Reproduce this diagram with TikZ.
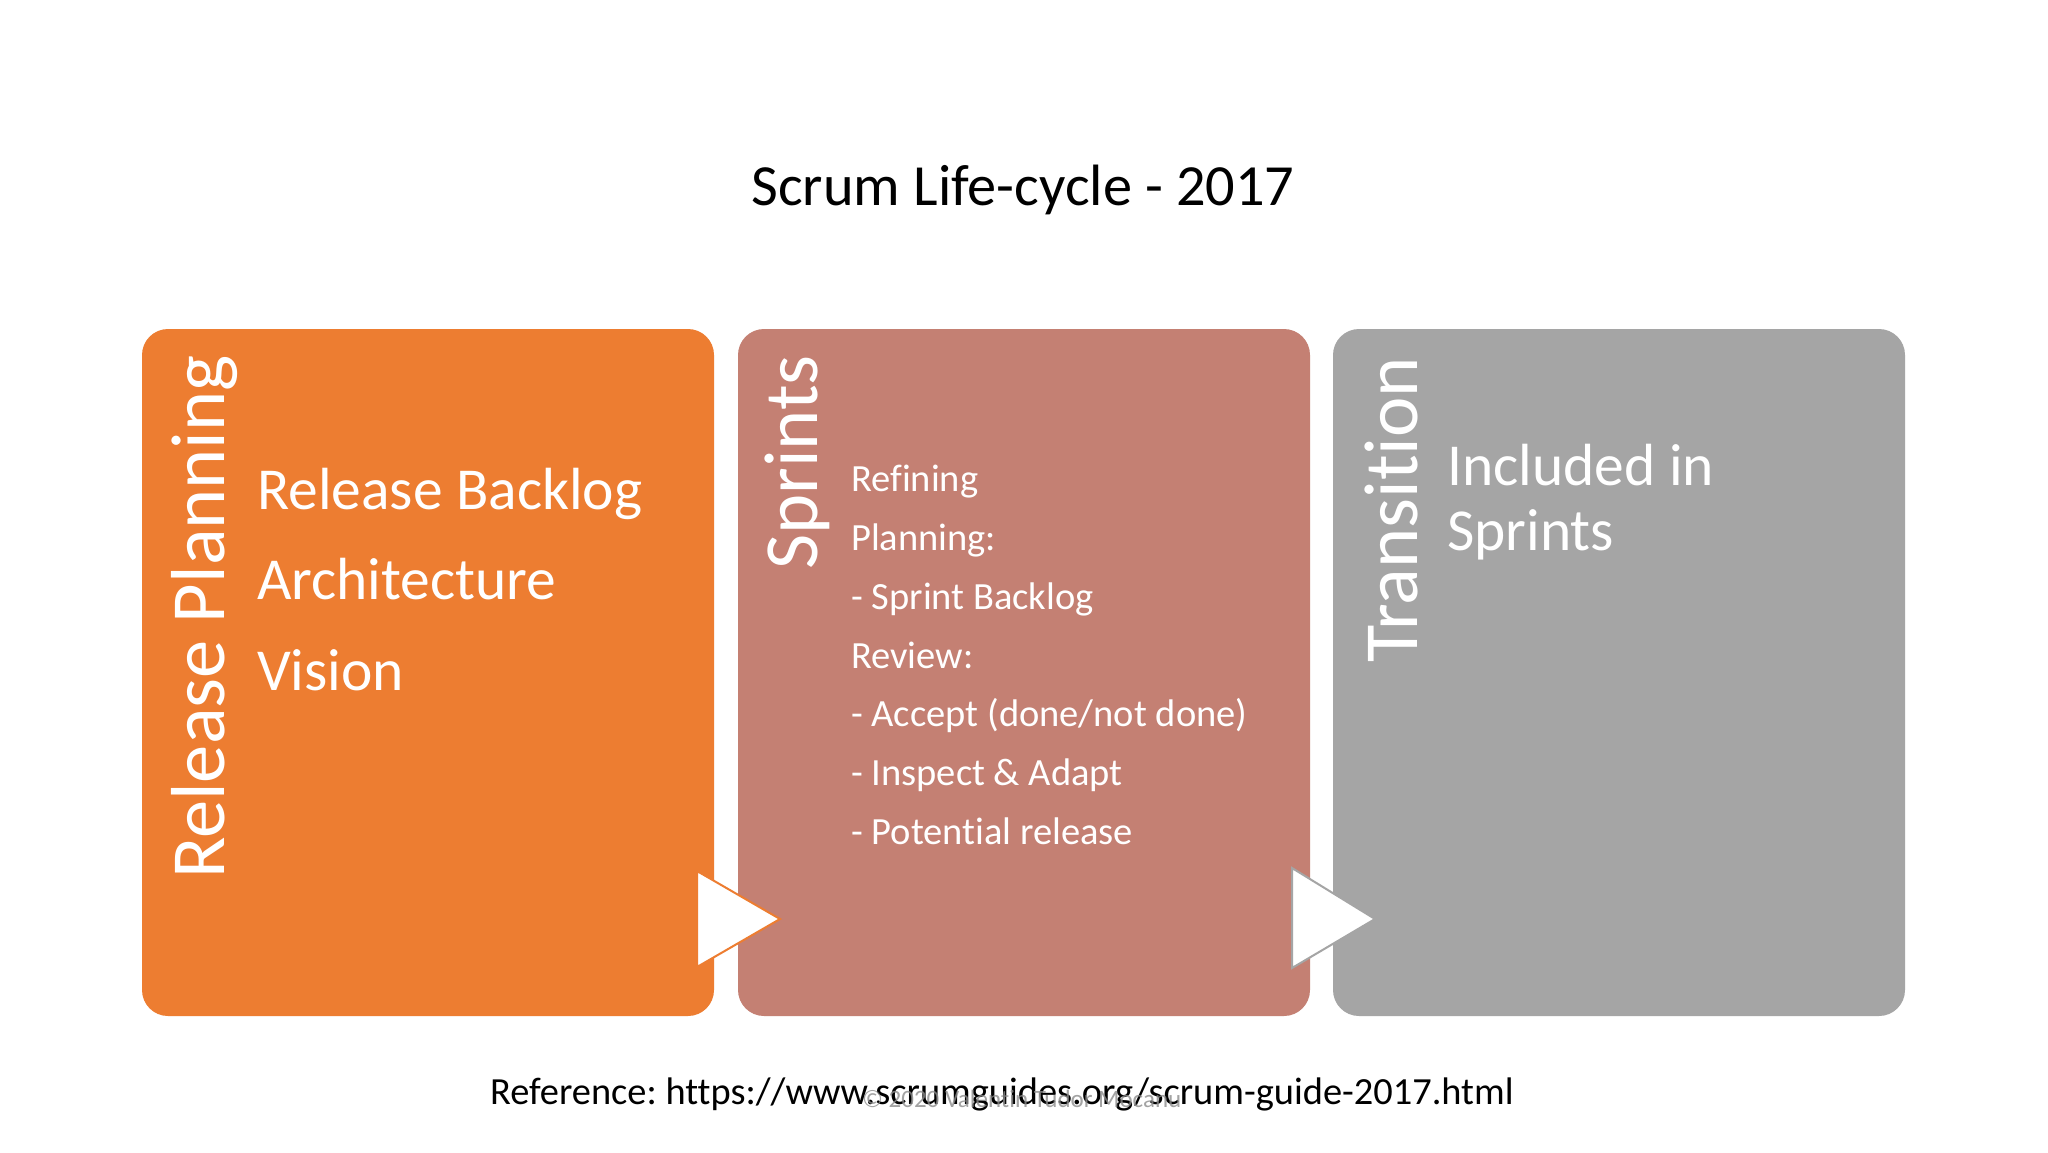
\documentclass[tikz,border=0pt]{standalone}
\usepackage{fontspec}
\setmainfont{Carlito}[Ligatures={NoCommon}]
\definecolor{boxA}{RGB}{237,125,49}
\definecolor{boxB}{RGB}{196,128,115}
\definecolor{boxC}{RGB}{165,165,165}
\begin{document}
\frenchspacing
\begin{tikzpicture}[x=1pt,y=-1pt,
  phase/.style={rounded corners=26pt},
  vtitle/.style={rotate=90,anchor=base east,text=white,font=\fontsize{76.5}{80}\selectfont,inner sep=0pt},
  bigitem/.style={anchor=base west,text=white,font=\fontsize{59.5}{70}\selectfont,inner sep=0pt},
  smallitem/.style={anchor=base west,text=white,font=\fontsize{38.5}{46}\selectfont,inner sep=0pt},
  chevron/.style={fill=white,line width=2pt,line join=miter}
]
\useasboundingbox (0,0) rectangle (2048,1152);
\fill[white] (0,0) rectangle (2048,1152);
% title
\node[anchor=base,inner sep=0pt,font=\fontsize{58.3}{64}\selectfont] (title) at (1023,205) {Scrum Life-cycle - 2017};
% boxes
\fill[boxA,phase] (142,329) rectangle (714,1016);
\fill[boxB,phase] (738,329) rectangle (1310,1016);
\fill[boxC,phase] (1333,329) rectangle (1905,1016);
% vertical titles
\node[vtitle] (t1) at (224,355) {Release Planning};
\node[vtitle] (t2) at (817,355) {Sprints};
\node[vtitle] (t3) at (1417,357) {Transition};
% box 1 items
\node[bigitem] (r1) at (257,509) {Release Backlog};
\node[bigitem] (r2) at (257,599) {Architecture};
\node[bigitem] (r3) at (257,690) {Vision};
% box 2 items
\node[smallitem] (s1) at (851,491) {Refining};
\node[smallitem] (s2) at (851,550) {Planning:};
\node[smallitem] (s3) at (851,609) {- Sprint Backlog};
\node[smallitem] (s4) at (851,668) {Review:};
\node[smallitem] (s5) at (851,726) {- Accept (done/not done)};
\node[smallitem] (s6) at (851,785) {- Inspect \& Adapt};
\node[smallitem] (s7) at (851,844) {- Potential release};
% box 3 items
\node[bigitem] (u1) at (1447,485) {Included in};
\node[bigitem] (u2) at (1447,550) {Sprints};
% chevrons
\draw[chevron,draw=boxA] (697,871) -- (780,919) -- (697,967) -- cycle;
\draw[chevron,draw=boxC] (1292,868) -- (1375,919) -- (1292,968) -- cycle;
% footer
\node[anchor=base west,inner sep=0pt,font=\fontsize{38.4}{44}\selectfont] (ref) at (490,1104) {Reference: https://www.scrumguides.org/scrum-guide-2017.html};
\node[anchor=base west,inner sep=0pt,text=black!45,opacity=0.8,font=\fontsize{25}{28}\selectfont] (wm) at (862,1107) {© 2020 Valentin Tudor Mocanu};
\end{tikzpicture}
\end{document}
